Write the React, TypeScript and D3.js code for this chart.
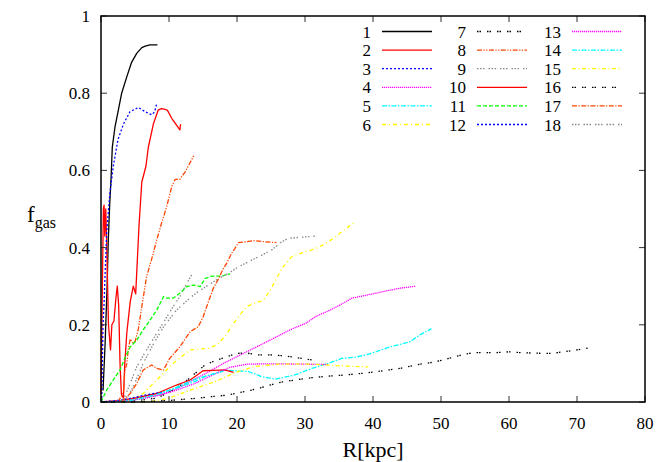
import React from 'react';
import * as d3 from 'd3';

const WIDTH = 666;
const HEIGHT = 462;
const MARGIN = { top: 16, right: 21, bottom: 60, left: 101 };
const FONT = "'Liberation Serif', 'Times New Roman', 'Liberation Sans', Arial, sans-serif";

// f_gas(R) profiles, [R in kpc, f_gas]
const s1 = [[0.3, 0.03], [0.6, 0.15], [0.9, 0.3], [1.07, 0.42], [1.3, 0.52], [1.47, 0.575], [1.66, 0.66], [2.06, 0.713], [2.55, 0.756], [3.04, 0.8], [3.8, 0.843], [4.5, 0.88], [5.25, 0.903], [6.0, 0.918], [6.5, 0.922], [7.2, 0.925], [8.3, 0.925]];
const s2 = [[0.0, 0.02], [0.2, 0.3], [0.35, 0.5], [0.45, 0.51], [0.55, 0.43], [0.7, 0.5], [0.85, 0.4], [1.1, 0.2], [1.4, 0.135], [1.6, 0.2], [1.9, 0.21], [2.2, 0.27], [2.4, 0.3], [2.6, 0.25], [2.8, 0.1], [3.0, 0.02], [3.3, 0.01], [3.5, 0.1], [3.8, 0.18], [4.3, 0.26], [4.75, 0.3], [5.1, 0.28], [5.6, 0.46], [6.0, 0.57], [6.6, 0.61], [6.96, 0.66], [7.7, 0.72], [8.4, 0.756], [8.9, 0.76], [9.4, 0.758], [9.75, 0.756], [10.4, 0.735], [11.0, 0.72], [11.6, 0.705], [11.7, 0.72]];
const s3 = [[0.1, 0.0], [0.2, 0.1], [0.3, 0.2], [0.44, 0.25], [0.6, 0.33], [0.84, 0.44], [1.3, 0.54], [1.8, 0.61], [2.5, 0.68], [3.3, 0.72], [4.26, 0.752], [5.5, 0.763], [6.5, 0.752], [7.45, 0.744], [7.9, 0.752], [8.2, 0.774]];
const s4 = [[0, 0], [3, 0.002], [5, 0.006], [7, 0.012], [9, 0.02], [11, 0.033], [13.1, 0.053], [15.5, 0.075], [18, 0.1], [20.5, 0.122], [22.9, 0.143], [25.4, 0.165], [27.8, 0.187], [30.25, 0.205], [31.5, 0.221], [33.7, 0.238], [35.1, 0.251], [36.9, 0.269], [39.1, 0.277], [41.5, 0.286], [44, 0.295], [46.3, 0.3]];
const s5 = [[0, 0], [3, 0.002], [5, 0.008], [7, 0.015], [9, 0.025], [11, 0.035], [13.8, 0.053], [15.3, 0.066], [16.8, 0.074], [18.2, 0.083], [19.7, 0.081], [21.7, 0.079], [23.6, 0.066], [25.6, 0.059], [28.5, 0.07], [31, 0.087], [33.4, 0.1], [35.4, 0.113], [37.4, 0.116], [39.8, 0.126], [42.5, 0.143], [44, 0.149], [45.4, 0.156], [46.9, 0.174], [48.6, 0.19]];
const s6 = [[3, 0], [4.5, 0.005], [6.2, 0.022], [8.2, 0.057], [10.6, 0.1], [13.1, 0.135], [15.8, 0.139], [17, 0.148], [18.2, 0.169], [19.5, 0.204], [20.4, 0.225], [21.4, 0.247], [22.6, 0.256], [23.9, 0.264], [24.9, 0.29], [25.8, 0.32], [26.8, 0.35], [28, 0.376], [30, 0.389], [31, 0.394], [32.7, 0.407], [34.2, 0.424], [35.6, 0.444], [37.4, 0.466]];
const s7 = [[0, 0], [5, 0.003], [8.2, 0.01], [10, 0.025], [12.1, 0.048], [14.1, 0.078], [15.3, 0.096], [16.8, 0.107], [18.5, 0.117], [20, 0.126], [21.4, 0.127], [23.1, 0.122], [24.9, 0.122], [26.6, 0.12], [28, 0.117], [29.5, 0.113], [31, 0.109]];
const s8 = [[2.5, 0.0], [3.3, 0.025], [3.5, 0.08], [3.8, 0.1], [4.0, 0.135], [4.3, 0.163], [4.75, 0.152], [5.0, 0.156], [5.5, 0.19], [6.0, 0.247], [6.7, 0.325], [7.45, 0.37], [8.2, 0.42], [8.9, 0.463], [9.66, 0.506], [10.4, 0.558], [10.9, 0.577], [11.6, 0.577], [12.4, 0.597], [13.7, 0.64]];
const s9 = [[3, 0], [3.5, 0.014], [4.3, 0.048], [5.25, 0.091], [6.7, 0.135], [8.2, 0.178], [9.4, 0.212], [10.6, 0.247], [11.6, 0.273], [12.6, 0.307], [13.6, 0.338]];
const s10 = [[0, 0], [3, 0.004], [5, 0.01], [8.2, 0.022], [11.1, 0.044], [13.1, 0.057], [14.3, 0.072], [15, 0.081], [16.5, 0.082], [18.2, 0.083], [19.5, 0.077]];
const s11 = [[0, 0], [0.84, 0.031], [1.8, 0.057], [2.8, 0.083], [3.5, 0.113], [4.3, 0.143], [5.25, 0.16], [6.2, 0.187], [7.2, 0.212], [8.2, 0.238], [9.2, 0.273], [9.66, 0.269], [10.6, 0.269], [11.6, 0.282], [12.6, 0.299], [13.6, 0.303], [14.6, 0.299], [15.3, 0.32], [16.3, 0.326], [17.7, 0.326], [19, 0.332]];
const s12 = [[0, 0], [3, 0.005], [5, 0.012], [7, 0.02], [9, 0.025]];
const s13 = [[0, 0], [3, 0.002], [5, 0.006], [7, 0.012], [9, 0.02], [11, 0.03], [13.8, 0.048], [17, 0.075], [19, 0.09], [21.5, 0.098], [25, 0.099], [30, 0.098], [33.5, 0.097]];
const s14 = [[0, 0], [4, 0.003], [6, 0.01], [8, 0.018], [10, 0.03], [12, 0.045], [14, 0.06], [16, 0.07], [18, 0.08]];
const s15 = [[6, 0], [8, 0.003], [10, 0.01], [13, 0.03], [16.8, 0.053], [19.7, 0.076], [22.6, 0.092], [26, 0.098], [31, 0.098], [35.9, 0.093], [39.3, 0.091]];
const s16 = [[0, 0], [5, 0.0], [10, 0.004], [14.3, 0.01], [16.3, 0.014], [18.7, 0.018], [20.2, 0.024], [22.2, 0.031], [24.1, 0.04], [26.1, 0.05], [28.5, 0.057], [31, 0.063], [33.4, 0.067], [35.9, 0.07], [38.3, 0.074], [40.3, 0.078], [42.3, 0.083], [44, 0.087], [46.9, 0.098], [48.9, 0.103], [50.3, 0.109], [51.8, 0.116], [53.5, 0.124], [55, 0.128], [58.2, 0.128], [60.1, 0.13], [61.6, 0.128], [63.1, 0.127], [65, 0.126], [66.3, 0.126], [68, 0.13], [70, 0.135], [71.7, 0.14]];
const s17 = [[3, 0], [4.3, 0.022], [5.25, 0.048], [6.2, 0.083], [7.45, 0.096], [8.2, 0.087], [9.2, 0.083], [10.1, 0.113], [11.6, 0.143], [13.1, 0.182], [14.3, 0.195], [15.0, 0.22], [15.8, 0.26], [16.5, 0.294], [17.3, 0.32], [18, 0.346], [18.5, 0.36], [19.2, 0.385], [19.7, 0.398], [20.2, 0.413], [21.2, 0.415], [22.4, 0.418], [24.1, 0.415], [25.8, 0.413]];
const s18 = [[3.5, 0], [4.3, 0.025], [5.25, 0.06], [6.2, 0.1], [7.7, 0.15], [9.2, 0.195], [11.1, 0.238], [13.1, 0.27], [14.3, 0.286], [15.8, 0.303], [17.3, 0.32], [18.7, 0.333], [20.2, 0.35], [22.2, 0.368], [23.6, 0.38], [25.1, 0.394], [26.6, 0.415], [27.5, 0.424], [29.5, 0.427], [31.7, 0.43]];

const SERIES = [s1, s2, s3, s4, s5, s6, s7, s8, s9, s10, s11, s12, s13, s14, s15, s16, s17, s18];
const LABELS = ['1', '2', '3', '4', '5', '6', '7', '8', '9', '10', '11', '12', '13', '14', '15', '16', '17', '18'];
const X_TICKS = [0, 10, 20, 30, 40, 50, 60, 70, 80];
const Y_TICKS = [0, 0.2, 0.4, 0.6, 0.8, 1];

// gnuplot-ish line types
const STYLES = [
  { color: '#000000', dash: null },
  { color: '#ff0000', dash: null },
  { color: '#0000ff', dash: '2,2' },
  { color: '#ff00ff', dash: '1.2,0.8' },
  { color: '#00ffff', dash: '5,1.5,1.5,1.5' },
  { color: '#ffff00', dash: '4,3,1,3' },
  { color: '#000000', dash: '1.5,1,1.5,6' },
  { color: '#ff4500', dash: '5,1.5,1.2,1.5,1.2,1.5' },
  { color: '#888888', dash: '1.5,1.5,1.5,1.5,1.5,4' },
];
const STYLE_CYCLE = [0, 1, 2, 3, 4, 5, 6, 7, 8, 1, -1, 2, 3, 4, 5, 6, 7, 8];

function styleOf(i) {
  if (STYLE_CYCLE[i] === -1) return { color: '#00ff00', dash: '4,2' };
  let s = STYLES[STYLE_CYCLE[i]];
  if (i === 14) return { color: s.color, dash: '4,2.5,1,2.5' };
  if (i === 16) return { color: s.color, dash: '5,1.5,1.2,1.5' };
  return s;
}

export default function App() {
  let innerWidth = WIDTH - MARGIN.left - MARGIN.right;
  let innerHeight = HEIGHT - MARGIN.top - MARGIN.bottom;
  let x = d3.scaleLinear().domain([0, 80]).range([0, innerWidth]);
  let y = d3.scaleLinear().domain([0, 1]).range([innerHeight, 0]);
  let line = d3.line().x(d => x(d[0])).y(d => y(d[1]));
  let txt = { fontFamily: FONT };

  let legendRows = 6;
  let legendCols = [
    { textX: 371, lineX0: 382, lineX1: 432 },
    { textX: 466, lineX0: 477, lineX1: 527 },
    { textX: 561, lineX0: 572, lineX1: 622 },
  ];

  return <svg width={WIDTH} height={HEIGHT} style={{ position: 'absolute', left: 0, top: 0, background: '#fff' }}>
    <g transform={`translate(${MARGIN.left},${MARGIN.top})`}>
      {SERIES.map((s, i) => {
        let st = styleOf(i);
        return <path key={i} d={line(s)} fill='none' stroke={st.color} strokeWidth={1.3}
          strokeDasharray={st.dash || undefined} strokeLinejoin='round' />;
      })}
      {X_TICKS.map(t => <g key={'x' + t}>
        <line x1={x(t)} x2={x(t)} y1={innerHeight} y2={innerHeight - 6} stroke='#333' strokeWidth={1} />
        <line x1={x(t)} x2={x(t)} y1={0} y2={6} stroke='#333' strokeWidth={1} />
        <text x={x(t)} y={innerHeight + 27} textAnchor='middle' fontSize={17} style={txt}>{t}</text>
      </g>)}
      {Y_TICKS.map(t => <g key={'y' + t}>
        <line x1={0} x2={6} y1={y(t)} y2={y(t)} stroke='#333' strokeWidth={1} />
        <line x1={innerWidth} x2={innerWidth - 6} y1={y(t)} y2={y(t)} stroke='#333' strokeWidth={1} />
        <text x={-11} y={y(t) + 6} textAnchor='end' fontSize={17} style={txt}>{t}</text>
      </g>)}
      <rect x={0} y={0} width={innerWidth} height={innerHeight} fill='none' stroke='#000' strokeWidth={1.5} />
    </g>
    {SERIES.map((s, i) => {
      let col = legendCols[Math.floor(i / legendRows)];
      let ly = 31.5 + (i % legendRows) * 18.6;
      let st = styleOf(i);
      return <g key={'l' + i}>
        <text x={col.textX} y={ly + 6} textAnchor='end' fontSize={17} style={txt}>{LABELS[i]}</text>
        <line x1={col.lineX0} x2={col.lineX1} y1={ly} y2={ly} stroke={st.color} strokeWidth={1.3}
          strokeDasharray={st.dash || undefined} />
      </g>;
    })}
    <text x={MARGIN.left + innerWidth / 2} y={457} textAnchor='middle' fontSize={22} style={txt}>R[kpc]</text>
    <text x={27} y={222} fontSize={23} style={txt}>f<tspan dy={6} fontSize={16}>gas</tspan></text>
  </svg>;
}
